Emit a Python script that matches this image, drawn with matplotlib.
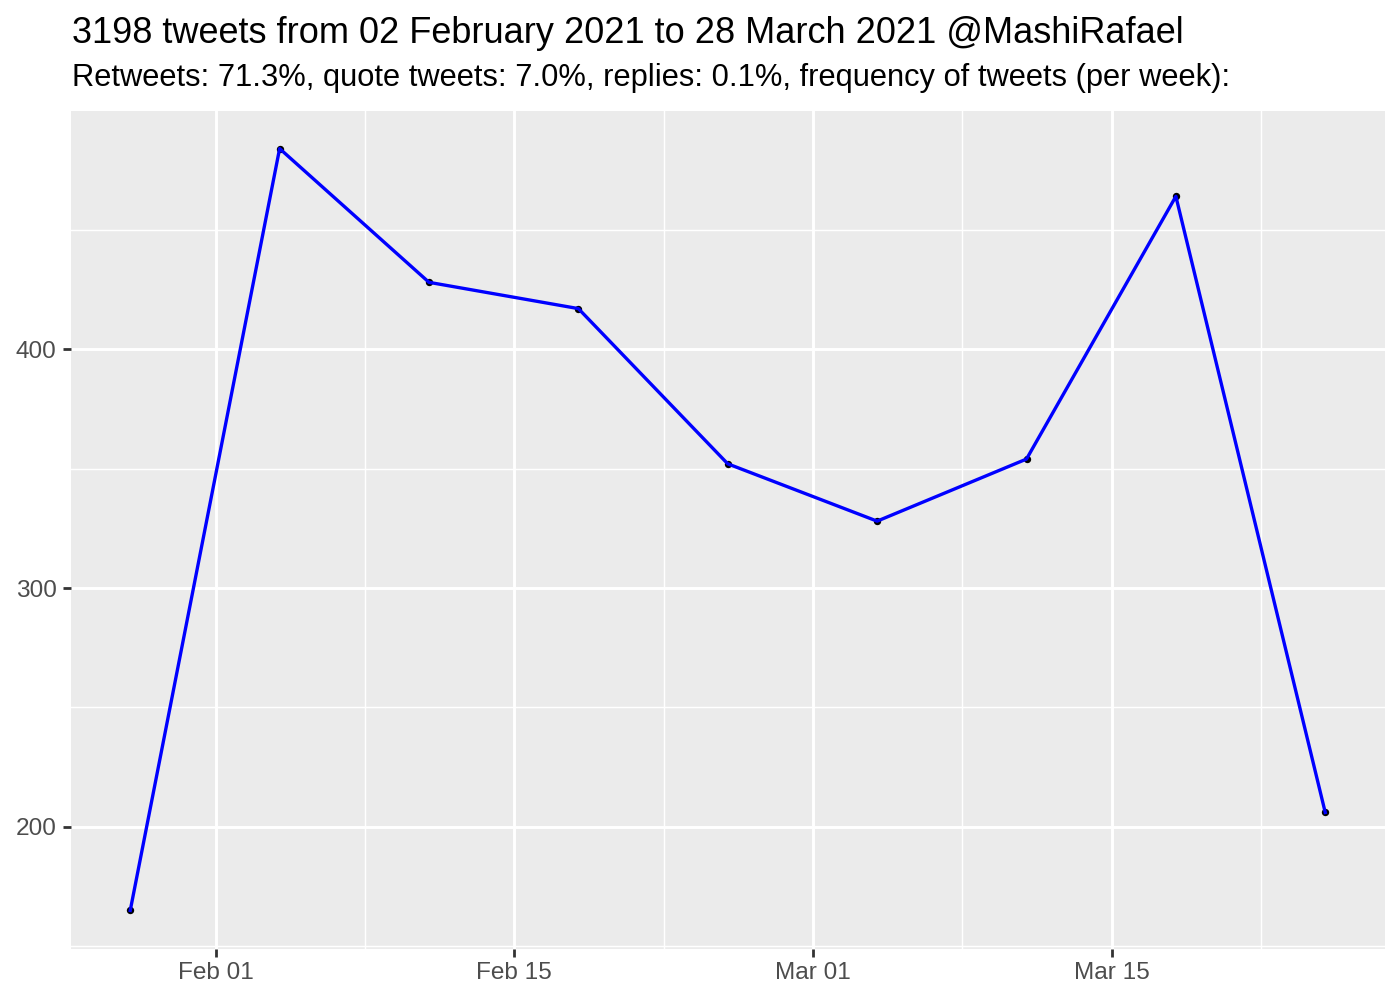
import matplotlib
matplotlib.use("Agg")
import matplotlib.pyplot as plt
import matplotlib.dates as mdates
import numpy as np
import pandas as pd

plt.rcParams['font.family'] = ['Liberation Sans', 'DejaVu Sans']

# ---- data ----
week_dates = ["2021-01-28", "2021-02-04", "2021-02-11", "2021-02-18", "2021-02-25",
              "2021-03-04", "2021-03-11", "2021-03-18", "2021-03-25"]
tweet_counts = [165, 484, 428, 417, 352, 328, 354, 464, 206]
major_x_ticks = ["2021-02-01", "2021-02-15", "2021-03-01", "2021-03-15"]
major_x_labels = ["Feb 01", "Feb 15", "Mar 01", "Mar 15"]
minor_x_ticks = ["2021-02-08", "2021-02-22", "2021-03-08", "2021-03-22"]
major_y_ticks = [200, 300, 400]
minor_y_ticks = [150, 250, 350, 450]
title_text = "3198 tweets from 02 February 2021 to 28 March 2021 @MashiRafael"
subtitle_text = "Retweets: 71.3%, quote tweets: 7.0%, replies: 0.1%, frequency of tweets (per week):"

x = mdates.date2num(pd.to_datetime(week_dates))
y = np.array(tweet_counts, dtype=float)

fig = plt.figure(figsize=(7, 5), dpi=200)
ax = fig.add_axes([70.5/1400, 1 - 948.5/1000, (1385-70.5)/1400, (948.5-110.5)/1000])
ax.set_facecolor('#EBEBEB')
for s in ax.spines.values():
    s.set_visible(False)

# limits with ggplot-like 5% expansion
xr = x.max() - x.min()
ax.set_xlim(x.min() - 0.05*xr, x.max() + 0.05*xr)
yr = y.max() - y.min()
ax.set_ylim(y.min() - 0.05*yr, y.max() + 0.05*yr)

ax.set_xticks(mdates.date2num(pd.to_datetime(major_x_ticks)))
ax.set_xticklabels(major_x_labels)
ax.set_xticks(mdates.date2num(pd.to_datetime(minor_x_ticks)), minor=True)
ax.set_yticks(major_y_ticks)
ax.set_yticks(minor_y_ticks, minor=True)

ax.grid(which='major', color='white', linewidth=1.42*0.75)
ax.grid(which='minor', color='white', linewidth=0.71*0.75)
ax.set_axisbelow(True)

ax.tick_params(which='major', length=2.75, width=1.0, color='#333333',
               labelsize=8.8, labelcolor='#4D4D4D', pad=2.2)
ax.tick_params(which='minor', length=0)

ax.scatter(x, y, s=7, color='black', zorder=3, linewidths=0)
ax.plot(x, y, color='#0000FF', linewidth=1.2, zorder=4)

fig.text(72/1400, 1 - 43/1000, title_text, fontsize=13.0, color='black',
         ha='left', va='baseline')
fig.text(72/1400, 1 - 86/1000, subtitle_text, fontsize=11.1, color='black',
         ha='left', va='baseline')

fig.savefig('out.png', dpi=200)
